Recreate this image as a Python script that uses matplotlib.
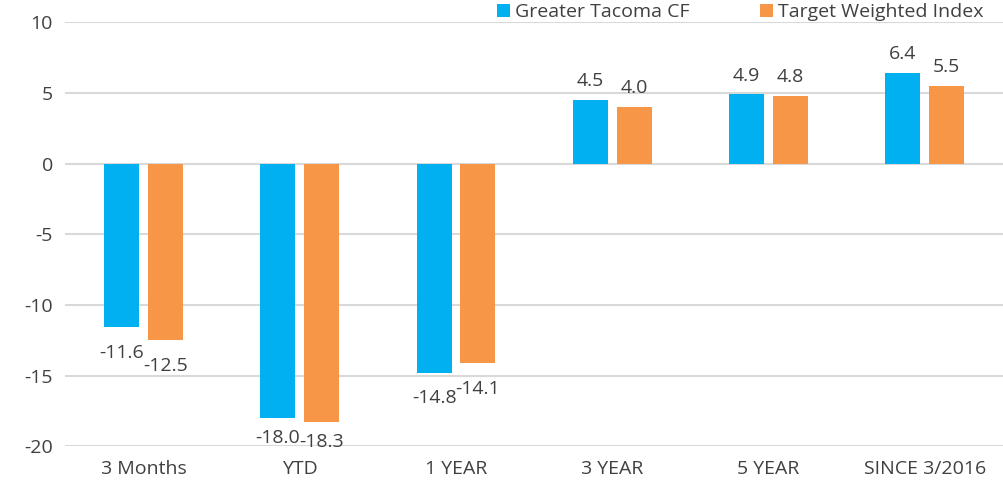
import numpy as np
import matplotlib.pyplot as plt

categories = ['3 Months', 'YTD', '1 YEAR', '3 YEAR', '5 YEAR', 'SINCE 3/2016']
tacoma = [-11.6, -18.0, -14.8, 4.5, 4.9, 6.4]
target = [-12.5, -18.3, -14.1, 4.0, 4.8, 5.5]

blue = '#00b0f0'
orange = '#f79646'
txt = '#404040'

plt.rcParams['font.family'] = ['Open Sans', 'DejaVu Sans']
plt.rcParams['axes.unicode_minus'] = False
fs = 14

fig = plt.figure(figsize=(10.04, 4.92), dpi=100)
ax = fig.add_axes([0.065, 0.093, 0.934, 0.862])

x = np.arange(len(categories))
w = 0.224
off = 0.14
b1 = ax.bar(x - off, tacoma, w, color=blue, label='Greater Tacoma CF', zorder=3)
b2 = ax.bar(x + off, target, w, color=orange, label='Target Weighted Index', zorder=3)

for bars, vals in [(b1, tacoma), (b2, target)]:
    for r, v in zip(bars, vals):
        cx = r.get_x() + r.get_width() / 2
        if v >= 0:
            ax.annotate(f'{v:.1f}', (cx, v), xytext=(0, 7), textcoords='offset points',
                        ha='center', va='bottom', fontsize=fs, color=txt)
        else:
            dy = -8 if v < -17 else -12
            ax.annotate(f'{v:.1f}', (cx, v), xytext=(0, dy), textcoords='offset points',
                        ha='center', va='top', fontsize=fs, color=txt)

ax.set_xlim(-0.5, len(categories) - 0.5)
ax.set_ylim(-20, 10)
ax.set_yticks(np.arange(-20, 11, 5))
ax.set_xticks(x)
ax.set_xticklabels(categories)
ax.tick_params(length=0, labelsize=fs, colors=txt)
ax.tick_params(axis='x', pad=10)
ax.tick_params(axis='y', pad=9)
ax.grid(axis='y', color='#d9d9d9', lw=1.5, zorder=0)
for s in ax.spines.values():
    s.set_visible(False)

leg = fig.legend(handles=[b1, b2], loc='center right', bbox_to_anchor=(0.98, 0.975), ncol=2,
                 frameon=False, fontsize=fs, handlelength=0.65, handleheight=0.65,
                 handletextpad=0.3, columnspacing=3.6, borderaxespad=0, borderpad=0)
for t in leg.get_texts():
    t.set_color(txt)

fig.savefig('out.png', dpi=100)
